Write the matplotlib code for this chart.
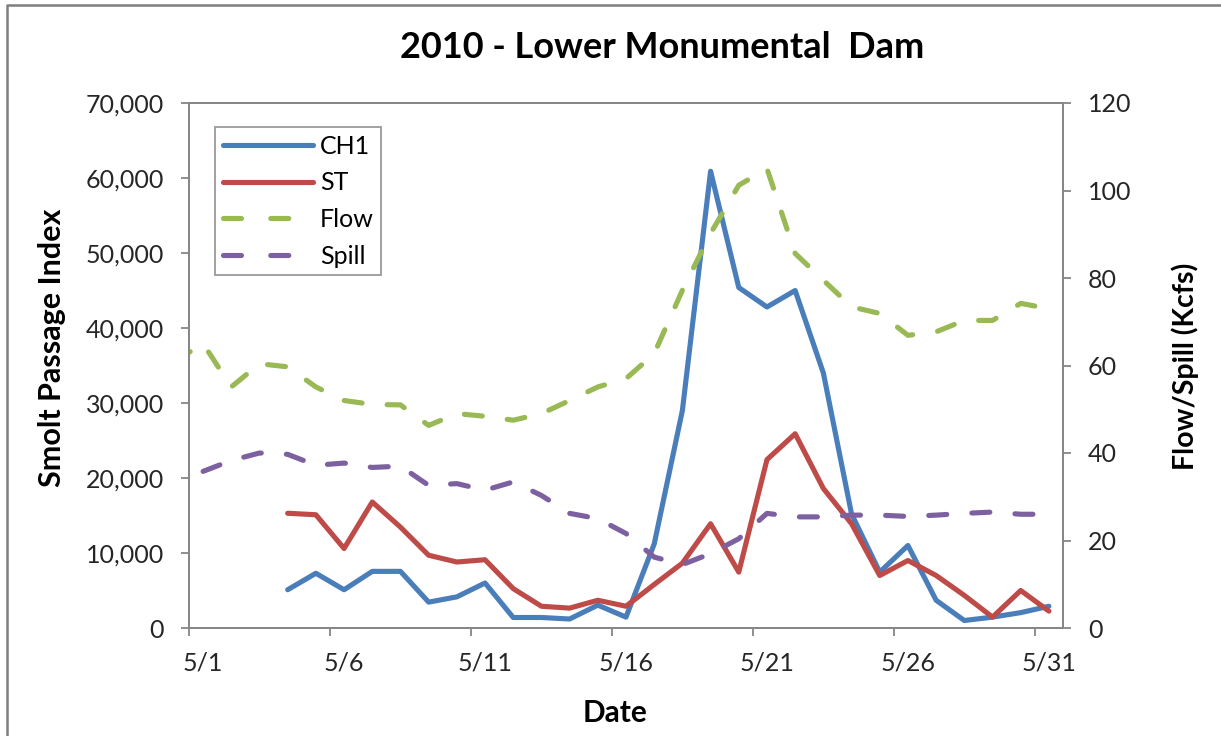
import numpy as np
import matplotlib
matplotlib.use("Agg")
import matplotlib.pyplot as plt
from matplotlib.lines import Line2D
from matplotlib.ticker import FuncFormatter

plt.rcParams['font.family'] = ['Lato', 'DejaVu Sans']

# Données (jour de mai)
jours_poissons = list(range(4, 32))
ch1 = [5100, 7300, 5100, 7550, 7550, 3450, 4150, 6000, 1400, 1400, 1200, 3050,
       1450, 11200, 29000, 60900, 45400, 42800, 45000, 34000, 15200, 7450,
       11000, 3700, 1000, 1450, 2050, 2900]
st = [15300, 15100, 10600, 16800, 13450, 9700, 8800, 9100, 5250, 2900, 2650,
      3700, 2900, 5800, 8650, 13900, 7450, 22450, 25900, 18600, 13900, 7000,
      9000, 7000, 4350, 1450, 5000, 2250]

jours_flow = list(range(0, 32))   # 0 = 4/30
flow = [61.0, 65.0, 55.1, 60.4, 59.7, 55.1, 52.0, 51.1, 51.0, 46.3, 49.0, 48.4,
        47.5, 49.0, 52.0, 55.1, 57.0, 62.7, 77.2, 90.2, 101.2, 105.0, 85.6,
        79.5, 73.4, 71.9, 66.9, 67.7, 70.3, 70.3, 74.2, 73.0]

jours_spill = list(range(1, 32))
spill = [35.8, 38.3, 40.0, 39.7, 37.2, 37.7, 36.7, 37.0, 32.6, 33.0, 31.5, 33.4,
         30.3, 26.2, 25.0, 21.6, 16.2, 14.5, 17.0, 20.4, 26.2, 25.4, 25.4, 25.8,
         25.8, 25.5, 25.8, 26.2, 26.5, 26.0, 26.0]

etiquettes_x = ['5/1', '5/6', '5/11', '5/16', '5/21', '5/26', '5/31']
jours_etiquettes = [1, 6, 11, 16, 21, 26, 31]

# Couleurs
bleu = '#4A7EBB'
rouge = '#BE4B48'
vert = '#98B954'
violet = '#7D60A0'
gris = '#868686'

W, H = 1221, 736
fig = plt.figure(figsize=(W / 100, H / 100), dpi=100)
ax = fig.add_axes([189 / W, 1 - 628 / H, (1063 - 189) / W, (628 - 103) / H])
ax2 = ax.twinx()

lw = 3.7
l1, = ax.plot(jours_poissons, ch1, color=bleu, lw=lw, solid_capstyle='round',
              solid_joinstyle='round', label='CH1')
l2, = ax.plot(jours_poissons, st, color=rouge, lw=lw, solid_capstyle='round',
              solid_joinstyle='round', label='ST')
l3, = ax2.plot(jours_flow, flow, color=vert, lw=lw, dashes=(3.5, 4.9),
               dash_capstyle='round', dash_joinstyle='round', label='Flow')
l4, = ax2.plot(jours_spill, spill, color=violet, lw=lw, dashes=(3.5, 4.9),
               dash_capstyle='round', dash_joinstyle='round', label='Spill')

ax.set_xlim(0.5, 31.5)
ax.set_ylim(0, 70000)
ax2.set_ylim(0, 120)
ax.set_yticks(np.arange(0, 70001, 10000))
ax2.set_yticks(np.arange(0, 121, 20))
ax.yaxis.set_major_formatter(FuncFormatter(lambda v, p: f'{int(v):,}'))

# ticks aux bords des jours, étiquettes au centre
ax.set_xticks(np.arange(0.5, 31.6, 5))
ax.set_xticklabels([])
ax.set_xticks(jours_etiquettes, minor=True)
ax.set_xticklabels(etiquettes_x, minor=True)
ts = 18
ax.tick_params(axis='x', which='major', length=6, width=1.3, color=gris, direction='out')
ax.tick_params(axis='x', which='minor', length=0, pad=17, labelsize=ts, labelcolor='#262626')
ax.tick_params(axis='y', length=6, width=1.3, color=gris, pad=12, labelsize=ts,
               labelcolor='#262626')
ax2.tick_params(axis='y', length=6, width=1.3, color=gris, pad=12, labelsize=ts,
                labelcolor='#262626')

for a in (ax, ax2):
    for s in a.spines.values():
        s.set_color(gris)
        s.set_linewidth(1.3)

fig.text(0.5425, 1 - 48 / H, '2010 - Lower Monumental  Dam', ha='center', va='center',
         fontsize=26, fontweight='bold')
fig.text(52 / W, 1 - 348 / H, 'Smolt Passage Index', rotation=90, ha='center',
         va='center', fontsize=22, fontweight='bold')
fig.text(1185 / W, 1 - 366 / H, 'Flow/Spill (Kcfs)', rotation=90, ha='center',
         va='center', fontsize=20.5, fontweight='bold')
fig.text(615 / W, 1 - 713 / H, 'Date', ha='center', va='center', fontsize=21.5,
         fontweight='bold')

# poignées de légende : deux tirets comme dans Excel
h1 = Line2D([], [], color=bleu, lw=lw, solid_capstyle='round')
h2 = Line2D([], [], color=rouge, lw=lw, solid_capstyle='round')
h3 = Line2D([], [], color=vert, lw=lw, dashes=(3.5, 5.7), dash_capstyle='round')
h4 = Line2D([], [], color=violet, lw=lw, dashes=(3.5, 5.7), dash_capstyle='round')
leg = ax2.legend(handles=[h1, h2, h3, h4], labels=['CH1', 'ST', 'Flow', 'Spill'],
                 loc='upper left', bbox_to_anchor=((215 - 189) / 874, (628 - 127) / 525),
                 borderaxespad=0, fontsize=18, handlelength=3.6, handletextpad=0.3,
                 labelspacing=0.55, borderpad=0.3, fancybox=False, framealpha=1)
leg.get_frame().set_edgecolor('#9a9a9a')
leg.get_frame().set_linewidth(1.3)

# cadre du graphique
fig.add_artist(Line2D([7.5 / W, 7.5 / W, 1.0], [0.0, 1 - 5 / H, 1 - 5 / H],
                      transform=fig.transFigure, color='#7f7f7f', lw=1.8))

fig.savefig('out.png', dpi=100)
